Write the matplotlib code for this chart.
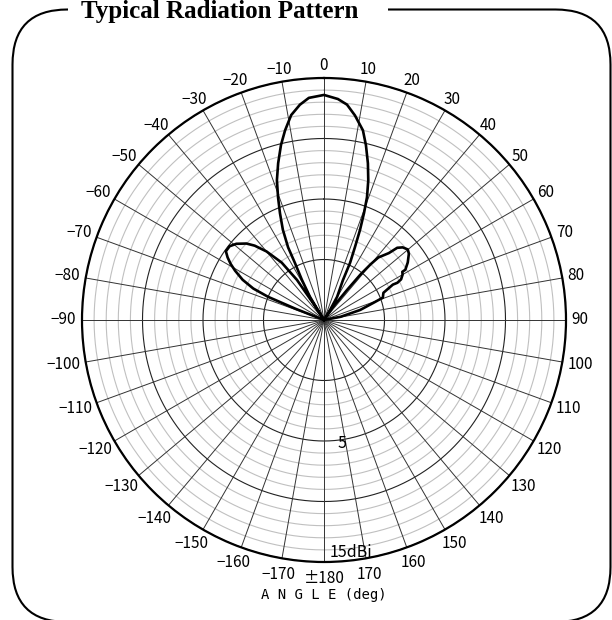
"""Typical radiation pattern of the antenna, polar plot in dBi."""

import matplotlib

matplotlib.use("Agg")
import matplotlib.pyplot as plt
import numpy as np
from matplotlib.patches import FancyBboxPatch, Rectangle

# pattern (angle in deg, gain in dBi)
# anything below -5 dBi is drawn at the centre of the chart
PATTERN_DEG = [
    -180, -70, -69.5, -68.5, -67.5, -66, -63.7, -61, -59, -57,
    -55, -52, -49, -45.4, -43, -40, -36.4, -34, -33, -32,
    -31.3, -28.8, -27, -26.3, -24.5, -22.4, -20.5, -18.6, -16.3, -13.8,
    -11.6, -9.1, -6.4, -3.9, 0, 3.6, 6.1, 8.6, 11.6, 13.5,
    15.65, 17.6, 19.3, 20.5, 21.8, 23.0, 24.5, 25.4, 29.5, 31,
    32,
    34.7, 37.5, 38.7, 39.9, 41, 44.1, 45.4, 47.3, 49.9, 52,
    55.5, 58.3, 58.4, 60, 62.2, 63.1, 62.8, 65.4, 69.2, 70.9,
    74.5, 79, 82, 180,
]
PATTERN_DBI = [
    -10, -10, -5, -2.5, 0.0, 1.4, 2.5, 3.4, 4.0, 4.5,
    4.9, 4.9, 4.6, 4.0, 3.4, 2.4, 0.9, -1.0, -3.3, -10,
    -2.8, -1.2, 0.3, 1.7, 3.2, 4.55, 5.85, 7.2, 8.5, 9.9,
    11.0, 12.15, 12.9, 13.4, 13.6, 13.3, 12.9, 12.1, 11.0, 9.85,
    8.45, 7.1, 5.75, 4.45, 3.0, 1.55, 0.2, -1.35, -2.8, -4.0,
    -10,
    -3.7, -1.85, -0.2, 1.0, 1.85, 2.7, 3.5, 3.85, 4.05, 3.9,
    3.4, 2.9, 2.6, 2.5, 2.2, 1.8, 1.4, 0.4, 0.2, -0.7,
    -1.9, -3.6, -10, -10,
]

R_MIN, R_MAX = -5, 15
RING_DBI = list(range(0, 16))
MAJOR_RING_DBI = [0, 5, 10, 15]
RING_LABELS = {5: "5", 15: "15dBi"}
SPOKE_DEG = list(range(0, 360, 10))
ANGLE_TICKS = list(range(-170, 190, 10))

LABEL_FONT = ["Noto Sans CJK JP", "DejaVu Sans"]


def angle_label(a):
    if a == 180:
        return "±180"
    if a < 0:
        return "−" + str(-a)
    return str(a)


fig = plt.figure(figsize=(6.12, 6.2), dpi=100)

# polar axes: centre at (324, 320) px from top-left, radius 242 px
cx, cy, rad = 324, 320, 242
W, H = 612, 620
ax = fig.add_axes(
    [(cx - rad) / W, (H - cy - rad) / H, 2 * rad / W, 2 * rad / H],
    projection="polar",
)
ax.set_theta_zero_location("N")
ax.set_theta_direction(-1)
ax.set_rlim(R_MIN, R_MAX)
ax.set_xticks([])
ax.set_yticks([])
ax.grid(False)
ax.spines["polar"].set_linewidth(1.6)
ax.spines["polar"].set_color("black")

# grid rings
full = np.linspace(0, 2 * np.pi, 721)
for g in RING_DBI:
    if g in MAJOR_RING_DBI:
        ax.plot(full, np.full_like(full, g), color="#222222", lw=0.8, zorder=2)
    else:
        ax.plot(full, np.full_like(full, g), color="#c0c0c0", lw=0.8, zorder=1)

# spokes every 10 deg
for a in SPOKE_DEG:
    t = np.radians(a)
    ax.plot([t, t], [R_MIN, R_MAX], color="#333333", lw=0.7, zorder=2)

# pattern
theta = np.radians(PATTERN_DEG)
r = np.maximum(np.array(PATTERN_DBI, dtype=float), R_MIN)
ax.plot(theta, r, color="black", lw=1.9, zorder=5, solid_joinstyle="round")

# angle labels round the rim
for a in ANGLE_TICKS:
    lab = angle_label(a)
    t = np.radians(a)
    s, c = np.sin(t), np.cos(t)
    w_px = 8.2 * len(lab)
    h_px = 13
    dx = s * (6 + w_px / 2)
    dy = c * (6 + h_px / 2)
    if c < 0:
        dy += c * 4  # labels below the centre sit a little further out
    ax.annotate(
        lab, xy=(t, R_MAX), xytext=(dx * 0.72, dy * 0.72),
        textcoords="offset points", ha="center", va="center",
        family=LABEL_FONT, fontsize=11, annotation_clip=False,
    )

# ring labels along the 180 deg spoke
ax.annotate(
    RING_LABELS[5], xy=(np.pi, 5), xytext=(9.5, -1.5),
    textcoords="offset points", ha="left", va="center",
    family=LABEL_FONT, fontsize=11.5, zorder=6,
)
ax.annotate(
    RING_LABELS[15], xy=(np.pi, 15), xytext=(4, 1),
    textcoords="offset points", ha="left", va="bottom",
    family=LABEL_FONT, fontsize=11.5, zorder=6,
)

fig.text(
    cx / W, (H - 595) / H, "A N G L E (deg)",
    ha="center", va="center", family="DejaVu Sans Mono", fontsize=10,
)

# rounded frame with a gap for the title
frame = FancyBboxPatch(
    (0.125, -0.02), 5.98, 6.125,
    boxstyle="round,pad=0,rounding_size=0.55",
    transform=fig.dpi_scale_trans, fill=False, lw=1.5, ec="black",
)
fig.add_artist(frame)
gap = Rectangle(
    (0.68, 6.0), 3.2, 0.2, transform=fig.dpi_scale_trans,
    facecolor="white", edgecolor="none", zorder=3,
)
fig.add_artist(gap)
fig.text(
    220 / W, (H - 18) / H, "Typical Radiation Pattern",
    ha="center", va="baseline", family="Liberation Serif",
    fontweight="bold", fontsize=18, zorder=4,
)

fig.savefig("out.png", dpi=100)
